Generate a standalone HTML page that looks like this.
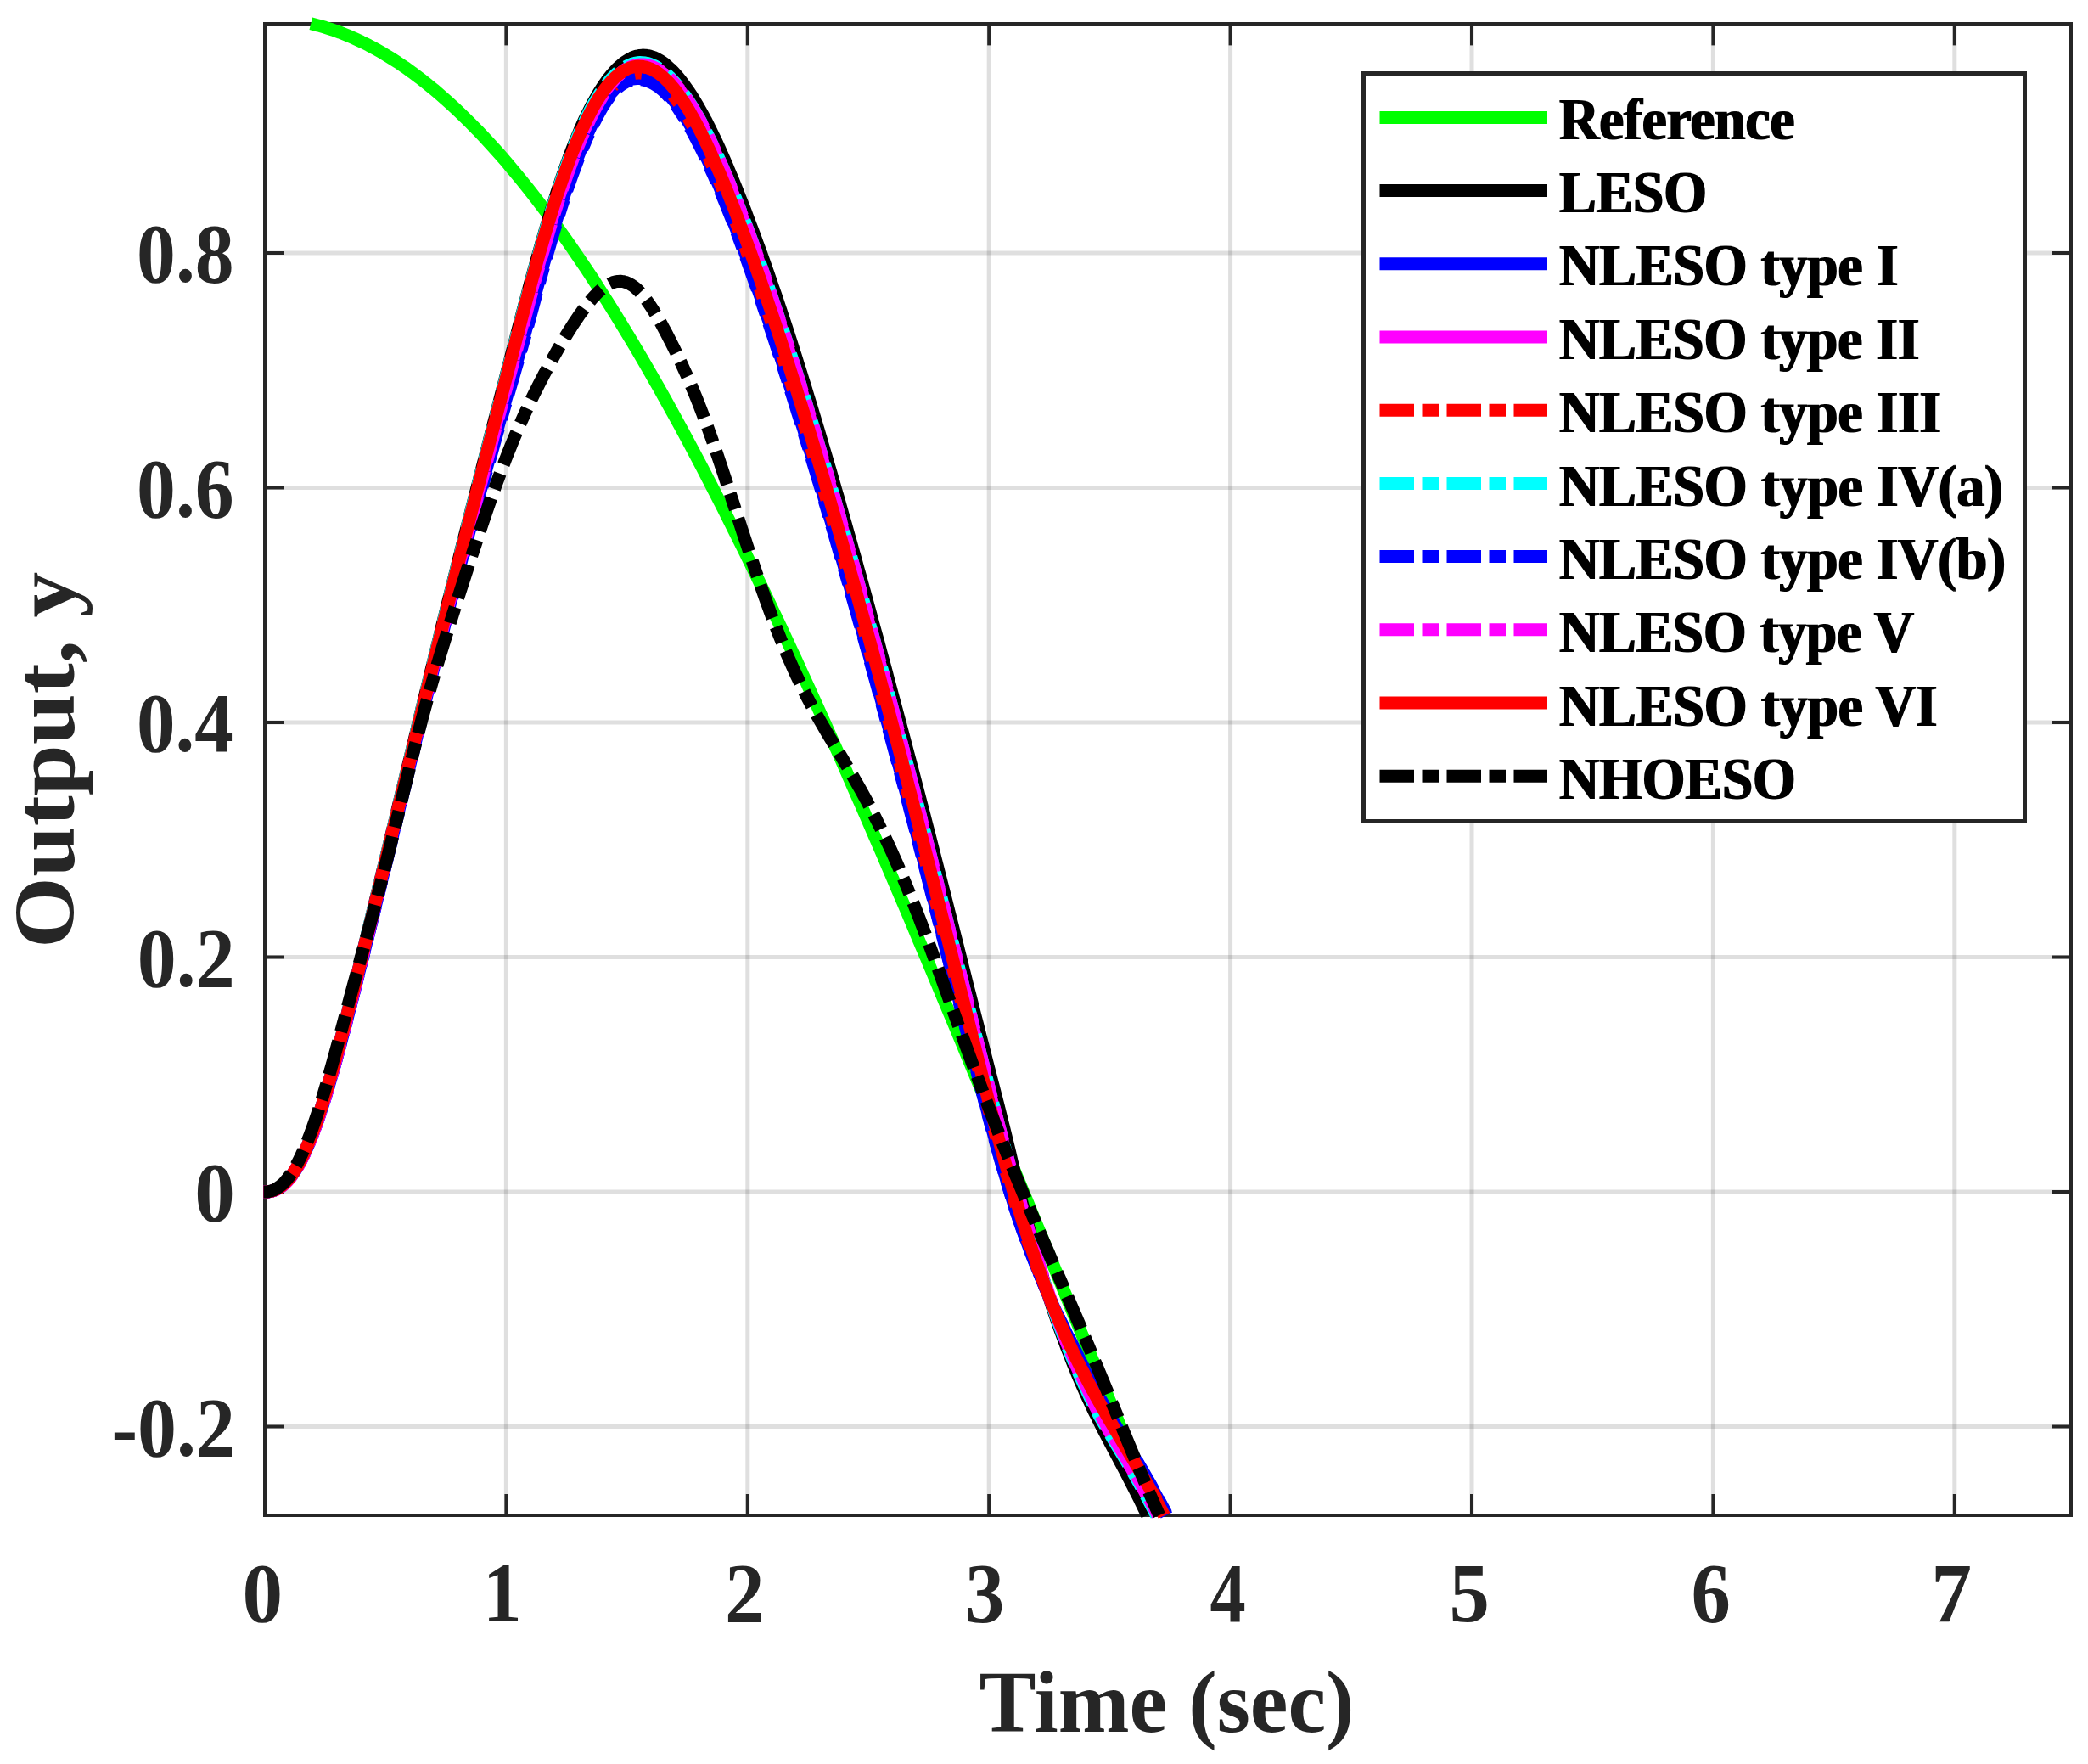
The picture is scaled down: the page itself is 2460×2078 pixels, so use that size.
<!DOCTYPE html>
<html lang="en"><head><meta charset="utf-8"><title>Output response</title>
<style>
html,body{margin:0;padding:0;background:#fff;}
body{width:2460px;height:2078px;overflow:hidden;}
svg{display:block;}
text{font-family:"Liberation Serif",serif;font-weight:bold;}
</style></head><body>
<svg width="2460" height="2078" viewBox="0 0 2460 2078">
<defs><filter id="bx" x="-2%" y="-2%" width="104%" height="104%"><feMorphology operator="dilate" radius="1 0"/></filter></defs>
<rect x="0" y="0" width="2460" height="2078" fill="#fff"/>
<g stroke="#262626" stroke-opacity="0.15" stroke-width="5" fill="none">
<line x1="596.4" y1="28.4" x2="596.4" y2="1785.0"/>
<line x1="880.8" y1="28.4" x2="880.8" y2="1785.0"/>
<line x1="1165.2" y1="28.4" x2="1165.2" y2="1785.0"/>
<line x1="1449.6" y1="28.4" x2="1449.6" y2="1785.0"/>
<line x1="1734.0" y1="28.4" x2="1734.0" y2="1785.0"/>
<line x1="2018.4" y1="28.4" x2="2018.4" y2="1785.0"/>
<line x1="2302.8" y1="28.4" x2="2302.8" y2="1785.0"/>
<line x1="312.0" y1="1680.5" x2="2440.0" y2="1680.5"/>
<line x1="312.0" y1="1404.0" x2="2440.0" y2="1404.0"/>
<line x1="312.0" y1="1127.5" x2="2440.0" y2="1127.5"/>
<line x1="312.0" y1="851.0" x2="2440.0" y2="851.0"/>
<line x1="312.0" y1="574.5" x2="2440.0" y2="574.5"/>
<line x1="312.0" y1="298.0" x2="2440.0" y2="298.0"/>
</g>
<g stroke="#262626" stroke-width="4" fill="none" stroke-linecap="butt">
<path d="M312.0 25.9 V1785.0 H2440.0 V25.9"/>
<line x1="310.0" y1="28.4" x2="2442.0" y2="28.4" stroke-width="5"/>
<line x1="596.4" y1="1785.0" x2="596.4" y2="1760.0"/>
<line x1="596.4" y1="28.4" x2="596.4" y2="53.4"/>
<line x1="880.8" y1="1785.0" x2="880.8" y2="1760.0"/>
<line x1="880.8" y1="28.4" x2="880.8" y2="53.4"/>
<line x1="1165.2" y1="1785.0" x2="1165.2" y2="1760.0"/>
<line x1="1165.2" y1="28.4" x2="1165.2" y2="53.4"/>
<line x1="1449.6" y1="1785.0" x2="1449.6" y2="1760.0"/>
<line x1="1449.6" y1="28.4" x2="1449.6" y2="53.4"/>
<line x1="1734.0" y1="1785.0" x2="1734.0" y2="1760.0"/>
<line x1="1734.0" y1="28.4" x2="1734.0" y2="53.4"/>
<line x1="2018.4" y1="1785.0" x2="2018.4" y2="1760.0"/>
<line x1="2018.4" y1="28.4" x2="2018.4" y2="53.4"/>
<line x1="2302.8" y1="1785.0" x2="2302.8" y2="1760.0"/>
<line x1="2302.8" y1="28.4" x2="2302.8" y2="53.4"/>
<line x1="312.0" y1="1680.5" x2="335.0" y2="1680.5"/>
<line x1="2440.0" y1="1680.5" x2="2417.0" y2="1680.5"/>
<line x1="312.0" y1="1404.0" x2="335.0" y2="1404.0"/>
<line x1="2440.0" y1="1404.0" x2="2417.0" y2="1404.0"/>
<line x1="312.0" y1="1127.5" x2="335.0" y2="1127.5"/>
<line x1="2440.0" y1="1127.5" x2="2417.0" y2="1127.5"/>
<line x1="312.0" y1="851.0" x2="335.0" y2="851.0"/>
<line x1="2440.0" y1="851.0" x2="2417.0" y2="851.0"/>
<line x1="312.0" y1="574.5" x2="335.0" y2="574.5"/>
<line x1="2440.0" y1="574.5" x2="2417.0" y2="574.5"/>
<line x1="312.0" y1="298.0" x2="335.0" y2="298.0"/>
<line x1="2440.0" y1="298.0" x2="2417.0" y2="298.0"/>
</g>
<g fill="none" stroke-width="15" stroke-linejoin="round" stroke-linecap="butt">
<path stroke="#00ff00" d="M366.3 27.8 L374.6 29.9 L383.1 32.3 L391.6 35.0 L400.2 38.1 L408.7 41.4 L417.2 45.1 L425.8 49.1 L434.3 53.3 L442.8 57.9 L451.4 62.8 L459.9 68.0 L468.4 73.4 L477.0 79.2 L485.5 85.3 L494.0 91.7 L502.5 98.4 L511.1 105.3 L519.6 112.6 L528.1 120.1 L536.7 128.0 L545.2 136.1 L553.7 144.5 L562.3 153.2 L570.8 162.2 L579.3 171.4 L587.9 180.9 L596.4 190.7 L604.9 200.8 L613.5 211.2 L622.0 221.8 L630.5 232.7 L639.1 243.8 L647.6 255.2 L656.1 266.9 L664.7 278.8 L673.2 291.0 L681.7 303.4 L690.3 316.1 L698.8 329.0 L707.3 342.2 L715.8 355.6 L724.4 369.2 L732.9 383.1 L741.4 397.2 L750.0 411.5 L758.5 426.0 L767.0 440.8 L775.6 455.8 L784.1 471.0 L792.6 486.4 L801.2 502.0 L809.7 517.8 L818.2 533.8 L826.8 550.0 L835.3 566.5 L843.8 583.0 L852.4 599.8 L860.9 616.8 L869.4 633.9 L878.0 651.2 L886.5 668.7 L895.0 686.3 L903.6 704.2 L912.1 722.1 L920.6 740.2 L929.1 758.5 L937.7 776.9 L946.2 795.5 L954.7 814.1 L963.3 833.0 L971.8 851.9 L980.3 871.0 L988.9 890.2 L997.4 909.5 L1005.9 928.9 L1014.5 948.4 L1023.0 968.1 L1031.5 987.8 L1040.1 1007.6 L1048.6 1027.5 L1057.1 1047.5 L1065.7 1067.6 L1074.2 1087.7 L1082.7 1108.0 L1091.3 1128.3 L1099.8 1148.6 L1108.3 1169.0 L1116.9 1189.5 L1125.4 1210.0 L1133.9 1230.5 L1142.4 1251.1 L1151.0 1271.8 L1159.5 1292.4 L1168.0 1313.1 L1176.6 1333.8 L1185.1 1354.5 L1193.6 1375.3 L1202.2 1396.0 L1210.7 1416.7 L1219.2 1437.5 L1227.8 1458.2 L1236.3 1478.9 L1244.8 1499.6 L1253.4 1520.3 L1261.9 1540.9 L1270.4 1561.5 L1279.0 1582.1 L1287.5 1602.7 L1296.0 1623.2 L1304.6 1643.6 L1313.1 1664.0 L1321.6 1684.4 L1330.2 1704.6 L1338.7 1724.8 L1347.2 1745.0 L1355.7 1765.0 L1364.3 1785.0"/>
<path stroke="#000000" d="M310.5 1404.0 L314.0 1404.0 L317.0 1403.7 L320.0 1403.1 L323.0 1402.1 L325.9 1400.8 L328.9 1399.1 L331.9 1396.9 L334.9 1394.4 L337.9 1391.3 L340.9 1387.9 L343.9 1383.9 L346.9 1379.5 L349.9 1374.6 L352.8 1369.3 L355.8 1363.4 L358.8 1357.1 L361.8 1350.3 L364.8 1343.1 L367.8 1335.4 L370.8 1327.2 L373.8 1318.7 L376.8 1309.7 L379.8 1300.4 L382.7 1290.7 L385.7 1280.7 L388.7 1270.4 L391.7 1259.8 L394.7 1248.9 L397.7 1237.9 L400.7 1226.7 L403.7 1215.3 L406.7 1203.8 L409.6 1192.2 L412.6 1180.4 L415.6 1168.6 L418.6 1156.7 L421.6 1144.7 L424.6 1132.7 L427.6 1120.6 L430.6 1108.5 L433.6 1096.4 L436.6 1084.2 L439.5 1072.0 L442.5 1059.7 L445.5 1047.5 L448.5 1035.2 L451.5 1022.9 L454.5 1010.6 L457.5 998.2 L460.5 985.9 L463.5 973.5 L466.5 961.1 L469.4 948.7 L472.4 936.3 L475.4 924.0 L478.4 911.6 L481.4 899.2 L484.4 886.8 L487.4 874.4 L490.4 862.1 L493.3 849.7 L496.3 837.4 L499.3 825.1 L502.3 812.8 L505.3 800.6 L508.3 788.3 L511.3 776.1 L514.3 763.9 L517.3 751.8 L520.2 739.6 L523.2 727.6 L526.2 715.5 L529.2 703.5 L532.2 691.5 L535.2 679.6 L538.2 667.7 L541.2 655.9 L544.1 644.0 L547.1 632.3 L550.1 620.5 L553.1 608.8 L556.1 597.2 L559.1 585.5 L562.1 573.9 L565.1 562.3 L568.1 550.7 L571.1 539.2 L574.1 527.6 L577.0 516.1 L580.0 504.5 L583.0 492.9 L586.0 481.4 L589.0 469.8 L592.0 458.2 L595.0 446.6 L598.0 435.0 L601.0 423.5 L604.0 411.9 L607.0 400.4 L610.0 388.9 L613.0 377.4 L616.0 366.0 L619.0 354.7 L622.0 343.4 L625.0 332.3 L628.0 321.2 L631.1 310.2 L634.1 299.4 L637.1 288.7 L640.2 278.2 L643.2 267.8 L646.3 257.7 L649.3 247.7 L652.4 237.9 L655.4 228.4 L658.5 219.1 L661.5 210.0 L664.6 201.1 L667.7 192.5 L670.7 184.2 L673.8 176.1 L676.9 168.3 L680.0 160.8 L683.0 153.5 L686.1 146.5 L689.2 139.7 L692.4 133.2 L695.5 127.0 L698.7 121.0 L701.9 115.3 L705.1 109.8 L708.3 104.7 L711.5 99.8 L714.7 95.2 L718.0 91.0 L721.2 87.0 L724.5 83.4 L727.7 80.0 L731.0 77.0 L734.2 74.4 L737.5 72.0 L740.7 70.0 L744.0 68.3 L747.2 67.0 L750.5 66.0 L753.7 65.4 L756.9 65.1 L760.2 65.2 L763.4 65.6 L766.6 66.4 L769.9 67.4 L773.2 68.9 L776.4 70.6 L779.7 72.7 L783.0 75.0 L786.2 77.7 L789.5 80.7 L792.8 83.9 L796.0 87.4 L799.3 91.2 L802.5 95.2 L805.8 99.5 L809.0 104.0 L812.3 108.8 L815.5 113.7 L818.7 118.9 L821.9 124.3 L825.1 129.9 L828.2 135.6 L831.4 141.5 L834.5 147.6 L837.6 153.8 L840.7 160.2 L843.9 166.8 L847.0 173.6 L850.1 180.5 L853.2 187.5 L856.3 194.7 L859.4 202.1 L862.5 209.5 L865.6 217.0 L868.7 224.7 L871.7 232.4 L874.8 240.2 L877.9 248.1 L880.9 256.1 L883.9 264.1 L887.0 272.2 L890.0 280.3 L893.0 288.5 L896.0 296.7 L899.0 305.0 L902.0 313.4 L905.0 321.9 L907.9 330.4 L910.9 339.1 L913.9 347.8 L916.9 356.6 L919.8 365.4 L922.8 374.4 L925.8 383.4 L928.7 392.4 L931.7 401.6 L934.6 410.8 L937.6 420.1 L940.5 429.4 L943.5 438.8 L946.4 448.3 L949.4 457.8 L952.3 467.4 L955.3 477.0 L958.2 486.7 L961.1 496.5 L964.1 506.3 L967.0 516.2 L969.9 526.1 L972.9 536.1 L975.8 546.1 L978.8 556.2 L981.7 566.3 L984.6 576.5 L987.6 586.7 L990.5 597.0 L993.4 607.3 L996.4 617.7 L999.3 628.1 L1002.3 638.6 L1005.2 649.1 L1008.2 659.6 L1011.1 670.2 L1014.1 680.8 L1017.0 691.5 L1020.0 702.2 L1022.9 712.9 L1025.9 723.7 L1028.8 734.6 L1031.8 745.4 L1034.8 756.3 L1037.7 767.3 L1040.7 778.3 L1043.7 789.3 L1046.6 800.3 L1049.6 811.4 L1052.6 822.6 L1055.6 833.7 L1058.6 844.9 L1061.6 856.2 L1064.6 867.5 L1067.6 878.8 L1070.6 890.1 L1073.6 901.5 L1076.6 913.0 L1079.6 924.4 L1082.6 935.9 L1085.6 947.4 L1088.6 959.0 L1091.6 970.6 L1094.6 982.2 L1097.6 993.9 L1100.6 1005.6 L1103.6 1017.3 L1106.6 1029.0 L1109.6 1040.8 L1112.6 1052.6 L1115.6 1064.4 L1118.6 1076.3 L1121.6 1088.1 L1124.6 1100.0 L1127.6 1111.9 L1130.6 1123.8 L1133.6 1135.8 L1136.6 1147.7 L1139.6 1159.7 L1142.7 1171.6 L1145.7 1183.6 L1148.7 1195.6 L1151.8 1207.5 L1154.8 1219.5 L1157.9 1231.4 L1160.9 1243.3 L1163.9 1255.2 L1167.0 1267.0 L1170.0 1278.7 L1173.0 1290.4 L1176.0 1302.0 L1178.9 1313.5 L1181.7 1324.8 L1184.5 1336.1 L1187.2 1347.2 L1189.8 1358.1 L1192.3 1368.9 L1194.9 1379.5 L1197.4 1390.0 L1199.9 1400.3 L1202.5 1410.4 L1205.0 1420.3 L1207.6 1430.0 L1210.2 1439.5 L1212.7 1448.8 L1215.2 1458.0 L1217.7 1466.9 L1220.2 1475.7 L1222.6 1484.3 L1225.1 1492.8 L1227.5 1501.0 L1230.0 1509.1 L1232.4 1517.0 L1234.8 1524.8 L1237.3 1532.4 L1239.7 1539.8 L1242.2 1547.1 L1244.6 1554.2 L1247.1 1561.2 L1249.6 1568.1 L1252.0 1574.8 L1254.5 1581.4 L1256.9 1587.8 L1259.4 1594.1 L1261.8 1600.4 L1264.2 1606.4 L1266.7 1612.4 L1269.1 1618.3 L1271.5 1624.1 L1274.0 1629.8 L1276.5 1635.4 L1278.9 1640.9 L1281.4 1646.3 L1283.9 1651.7 L1286.4 1657.0 L1288.9 1662.3 L1291.5 1667.5 L1294.1 1672.6 L1296.6 1677.7 L1299.2 1682.8 L1301.8 1687.8 L1304.4 1692.8 L1307.1 1697.8 L1309.7 1702.9 L1312.3 1707.9 L1315.0 1712.9 L1317.6 1717.9 L1320.3 1722.9 L1323.0 1728.0 L1325.7 1733.1 L1328.4 1738.3 L1331.1 1743.5 L1333.8 1748.8 L1336.6 1754.2 L1339.3 1759.6 L1342.1 1765.1 L1344.8 1770.7 L1347.6 1776.5 L1350.4 1782.3 L1351.6 1785.0"/>
<path stroke="#0000ff" d="M310.5 1404.0 L314.0 1404.0 L317.1 1403.7 L320.1 1403.1 L323.2 1402.1 L326.2 1400.8 L329.2 1399.1 L332.3 1396.9 L335.3 1394.4 L338.4 1391.3 L341.4 1387.9 L344.4 1383.9 L347.5 1379.5 L350.5 1374.6 L353.6 1369.3 L356.6 1363.4 L359.6 1357.1 L362.7 1350.3 L365.7 1343.1 L368.7 1335.4 L371.8 1327.2 L374.8 1318.7 L377.8 1309.7 L380.9 1300.4 L383.9 1290.7 L386.9 1280.7 L389.9 1270.4 L393.0 1259.8 L396.0 1248.9 L399.0 1237.9 L402.0 1226.7 L405.0 1215.3 L408.1 1203.8 L411.1 1192.2 L414.1 1180.4 L417.1 1168.6 L420.1 1156.7 L423.1 1144.7 L426.1 1132.7 L429.2 1120.6 L432.2 1108.5 L435.2 1096.4 L438.2 1084.2 L441.2 1072.0 L444.2 1059.7 L447.2 1047.5 L450.2 1035.2 L453.2 1022.9 L456.2 1010.6 L459.3 998.2 L462.3 985.9 L465.3 973.5 L468.3 961.1 L471.3 948.7 L474.3 936.3 L477.3 924.0 L480.3 911.6 L483.4 899.2 L486.4 886.8 L489.4 874.4 L492.4 862.1 L495.5 849.7 L498.5 837.4 L501.5 825.1 L504.5 812.8 L507.6 800.6 L510.6 788.3 L513.7 776.1 L516.8 763.9 L519.9 751.8 L523.0 739.6 L526.1 727.6 L529.2 715.5 L532.4 703.5 L535.5 691.5 L538.6 679.6 L541.8 667.7 L544.9 655.9 L548.1 644.0 L551.3 632.3 L554.4 620.5 L557.6 608.8 L560.8 597.2 L564.0 585.5 L567.2 573.9 L570.3 562.3 L573.5 550.7 L576.7 539.2 L579.9 527.6 L583.1 516.1 L586.4 504.5 L589.6 492.9 L593.0 481.4 L596.3 469.8 L599.7 458.2 L603.1 446.6 L606.4 435.0 L609.7 423.5 L613.0 411.9 L616.3 400.4 L619.5 388.9 L622.6 377.4 L625.6 366.0 L628.6 354.7 L631.6 343.6 L634.6 332.6 L637.5 321.7 L640.5 311.0 L643.4 300.5 L646.4 290.2 L649.3 280.0 L652.3 270.1 L655.2 260.4 L658.1 250.9 L661.0 241.7 L663.9 232.6 L666.8 223.9 L669.7 215.3 L672.6 207.0 L675.5 199.0 L678.4 191.2 L681.3 183.7 L684.2 176.5 L687.1 169.5 L689.9 162.8 L692.8 156.4 L695.6 150.3 L698.3 144.6 L701.0 139.2 L703.7 134.1 L706.4 129.4 L709.0 125.0 L711.6 120.8 L714.2 117.0 L716.8 113.5 L719.3 110.3 L721.9 107.4 L724.4 104.7 L727.0 102.4 L729.5 100.3 L732.1 98.4 L734.7 96.9 L737.3 95.6 L739.9 94.5 L742.5 93.7 L745.2 93.0 L747.8 92.7 L750.6 92.5 L753.3 92.5 L756.1 92.8 L758.8 93.2 L761.6 93.9 L764.3 94.8 L767.1 95.9 L769.8 97.3 L772.6 98.8 L775.4 100.6 L778.2 102.7 L780.9 104.9 L783.7 107.4 L786.5 110.2 L789.3 113.2 L792.1 116.4 L795.0 119.9 L797.8 123.6 L800.6 127.6 L803.5 131.8 L806.4 136.3 L809.3 141.0 L812.2 145.9 L815.1 151.1 L818.0 156.5 L820.9 162.2 L823.9 168.0 L826.8 173.9 L829.8 180.1 L832.7 186.3 L835.7 192.8 L838.6 199.3 L841.6 206.0 L844.5 212.9 L847.5 219.9 L850.4 227.0 L853.4 234.2 L856.4 241.6 L859.4 249.1 L862.3 256.7 L865.3 264.5 L868.3 272.4 L871.3 280.4 L874.3 288.5 L877.3 296.7 L880.3 305.0 L883.3 313.4 L886.3 321.9 L889.3 330.4 L892.3 339.1 L895.3 347.8 L898.4 356.6 L901.4 365.4 L904.4 374.4 L907.4 383.4 L910.4 392.4 L913.5 401.6 L916.5 410.8 L919.5 420.1 L922.5 429.4 L925.6 438.8 L928.6 448.3 L931.6 457.8 L934.6 467.4 L937.7 477.0 L940.7 486.7 L943.7 496.5 L946.8 506.3 L949.8 516.2 L952.8 526.1 L955.9 536.1 L958.9 546.1 L961.9 556.2 L965.0 566.3 L968.0 576.5 L971.0 586.7 L974.1 597.0 L977.1 607.3 L980.1 617.7 L983.2 628.1 L986.2 638.6 L989.2 649.1 L992.3 659.6 L995.3 670.2 L998.4 680.8 L1001.4 691.5 L1004.4 702.2 L1007.5 712.9 L1010.5 723.7 L1013.5 734.6 L1016.5 745.4 L1019.6 756.3 L1022.6 767.3 L1025.6 778.3 L1028.7 789.3 L1031.7 800.3 L1034.7 811.4 L1037.7 822.6 L1040.8 833.7 L1043.8 844.9 L1046.8 856.2 L1049.8 867.5 L1052.8 878.8 L1055.9 890.1 L1058.9 901.5 L1061.9 913.0 L1064.9 924.4 L1067.9 935.9 L1070.9 947.4 L1074.0 959.0 L1077.0 970.6 L1080.0 982.2 L1083.0 993.9 L1086.0 1005.6 L1089.0 1017.3 L1092.1 1029.0 L1095.1 1040.8 L1098.1 1052.6 L1101.1 1064.4 L1104.1 1076.3 L1107.1 1088.1 L1110.2 1100.0 L1113.2 1111.9 L1116.2 1123.8 L1119.2 1135.8 L1122.2 1147.7 L1125.2 1159.7 L1128.3 1171.6 L1131.3 1183.6 L1134.3 1195.6 L1137.3 1207.5 L1140.3 1219.5 L1143.3 1231.4 L1146.4 1243.3 L1149.4 1255.2 L1152.4 1267.0 L1155.4 1278.7 L1158.4 1290.4 L1161.5 1302.0 L1164.5 1313.5 L1167.5 1324.8 L1170.6 1336.1 L1173.6 1347.2 L1176.6 1358.1 L1179.7 1368.9 L1182.7 1379.5 L1185.7 1390.0 L1188.8 1400.3 L1191.9 1410.4 L1195.0 1420.3 L1198.2 1430.0 L1201.4 1439.5 L1204.7 1448.8 L1208.0 1458.0 L1211.3 1466.9 L1214.7 1475.7 L1218.1 1484.3 L1221.4 1492.8 L1224.8 1501.0 L1228.2 1509.1 L1231.5 1517.0 L1234.9 1524.8 L1238.2 1532.4 L1241.6 1539.8 L1245.0 1547.1 L1248.4 1554.2 L1251.8 1561.2 L1255.2 1568.1 L1258.5 1574.8 L1261.8 1581.4 L1264.9 1587.8 L1268.0 1594.1 L1271.0 1600.4 L1274.0 1606.4 L1277.0 1612.4 L1280.0 1618.3 L1283.0 1624.1 L1286.0 1629.8 L1289.0 1635.4 L1292.0 1640.9 L1295.0 1646.3 L1298.0 1651.7 L1301.0 1657.0 L1304.0 1662.3 L1307.0 1667.5 L1310.0 1672.6 L1313.0 1677.7 L1316.0 1682.8 L1319.0 1687.8 L1322.0 1692.8 L1325.0 1697.8 L1328.0 1702.9 L1331.0 1707.9 L1334.0 1712.9 L1337.0 1717.9 L1340.0 1722.9 L1343.0 1728.0 L1346.0 1733.1 L1349.0 1738.3 L1352.0 1743.5 L1355.0 1748.8 L1358.0 1754.2 L1361.0 1759.6 L1364.0 1765.1 L1367.0 1770.7 L1370.0 1776.5 L1373.0 1782.3 L1374.4 1785.0"/>
<path stroke="#ff00ff" d="M310.5 1404.0 L314.0 1404.0 L317.0 1403.7 L320.0 1403.1 L323.0 1402.1 L326.0 1400.8 L329.0 1399.1 L332.0 1396.9 L335.0 1394.4 L338.0 1391.3 L341.0 1387.9 L344.0 1383.9 L347.0 1379.5 L350.0 1374.6 L353.0 1369.3 L356.0 1363.4 L359.0 1357.1 L362.0 1350.3 L365.0 1343.1 L368.0 1335.4 L371.0 1327.2 L374.0 1318.7 L377.0 1309.7 L380.0 1300.4 L383.0 1290.7 L386.0 1280.7 L389.0 1270.4 L392.0 1259.8 L395.0 1248.9 L398.0 1237.9 L401.0 1226.7 L404.0 1215.3 L407.0 1203.8 L410.0 1192.2 L413.0 1180.4 L416.0 1168.6 L419.0 1156.7 L422.0 1144.7 L425.0 1132.7 L428.0 1120.6 L431.0 1108.5 L434.0 1096.4 L437.0 1084.2 L440.0 1072.0 L443.0 1059.7 L446.0 1047.5 L449.0 1035.2 L452.0 1022.9 L455.0 1010.6 L458.0 998.2 L461.0 985.9 L464.0 973.5 L467.0 961.1 L470.1 948.7 L473.1 936.3 L476.1 924.0 L479.1 911.6 L482.2 899.2 L485.2 886.8 L488.2 874.4 L491.3 862.1 L494.3 849.7 L497.4 837.4 L500.4 825.1 L503.5 812.8 L506.5 800.6 L509.6 788.3 L512.6 776.1 L515.7 763.9 L518.7 751.8 L521.8 739.6 L524.9 727.6 L527.9 715.5 L531.0 703.5 L534.1 691.5 L537.1 679.6 L540.2 667.7 L543.2 655.9 L546.3 644.0 L549.4 632.3 L552.4 620.5 L555.5 608.8 L558.6 597.2 L561.6 585.5 L564.7 573.9 L567.8 562.3 L570.8 550.7 L573.9 539.2 L577.0 527.6 L580.0 516.1 L583.1 504.5 L586.2 492.9 L589.3 481.4 L592.4 469.8 L595.5 458.2 L598.6 446.6 L601.7 435.0 L604.8 423.5 L607.9 411.9 L610.9 400.4 L614.0 388.9 L617.0 377.4 L620.0 366.0 L623.0 354.7 L626.0 343.5 L629.0 332.4 L632.0 321.5 L635.0 310.7 L638.0 300.0 L641.0 289.6 L644.0 279.3 L647.0 269.1 L650.0 259.2 L653.0 249.5 L656.0 240.1 L659.0 230.8 L662.0 221.8 L665.0 213.0 L668.0 204.5 L671.0 196.2 L674.0 188.2 L677.0 180.4 L680.0 172.9 L683.0 165.6 L686.0 158.6 L689.0 151.9 L692.0 145.5 L694.9 139.2 L697.9 133.3 L700.9 127.6 L703.8 122.2 L706.8 117.1 L709.7 112.3 L712.7 107.7 L715.6 103.5 L718.5 99.5 L721.5 95.9 L724.4 92.5 L727.3 89.5 L730.3 86.7 L733.2 84.3 L736.2 82.1 L739.1 80.3 L742.1 78.8 L745.1 77.6 L748.0 76.7 L751.0 76.2 L754.0 75.9 L757.0 76.0 L760.0 76.3 L763.1 77.0 L766.2 77.9 L769.3 79.1 L772.4 80.7 L775.5 82.5 L778.7 84.6 L781.8 86.9 L785.0 89.5 L788.1 92.4 L791.3 95.6 L794.5 99.0 L797.7 102.6 L800.8 106.5 L804.0 110.7 L807.2 115.0 L810.3 119.6 L813.5 124.4 L816.6 129.5 L819.7 134.7 L822.8 140.1 L825.9 145.7 L829.0 151.5 L832.1 157.5 L835.1 163.7 L838.2 170.0 L841.2 176.5 L844.3 183.1 L847.3 189.9 L850.4 196.8 L853.4 203.9 L856.5 211.0 L859.5 218.3 L862.5 225.7 L865.6 233.2 L868.6 240.9 L871.6 248.6 L874.7 256.4 L877.7 264.3 L880.7 272.3 L883.7 280.3 L886.7 288.5 L889.7 296.7 L892.7 305.0 L895.7 313.4 L898.7 321.9 L901.7 330.4 L904.7 339.1 L907.7 347.8 L910.7 356.6 L913.6 365.4 L916.6 374.4 L919.6 383.4 L922.6 392.4 L925.6 401.6 L928.6 410.8 L931.5 420.1 L934.5 429.4 L937.5 438.8 L940.5 448.3 L943.5 457.8 L946.4 467.4 L949.4 477.0 L952.4 486.7 L955.4 496.5 L958.3 506.3 L961.3 516.2 L964.3 526.1 L967.3 536.1 L970.2 546.1 L973.2 556.2 L976.2 566.3 L979.1 576.5 L982.1 586.7 L985.1 597.0 L988.1 607.3 L991.0 617.7 L994.0 628.1 L997.0 638.6 L999.9 649.1 L1002.9 659.6 L1005.9 670.2 L1008.8 680.8 L1011.8 691.5 L1014.8 702.2 L1017.8 712.9 L1020.7 723.7 L1023.7 734.6 L1026.7 745.4 L1029.6 756.3 L1032.6 767.3 L1035.6 778.3 L1038.6 789.3 L1041.5 800.3 L1044.5 811.4 L1047.5 822.6 L1050.4 833.7 L1053.4 844.9 L1056.4 856.2 L1059.4 867.5 L1062.3 878.8 L1065.3 890.1 L1068.3 901.5 L1071.2 913.0 L1074.2 924.4 L1077.2 935.9 L1080.1 947.4 L1083.1 959.0 L1086.1 970.6 L1089.0 982.2 L1092.0 993.9 L1095.0 1005.6 L1098.0 1017.3 L1100.9 1029.0 L1103.9 1040.8 L1106.9 1052.6 L1109.9 1064.4 L1112.8 1076.3 L1115.8 1088.1 L1118.8 1100.0 L1121.8 1111.9 L1124.8 1123.8 L1127.8 1135.8 L1130.8 1147.7 L1133.8 1159.7 L1136.8 1171.6 L1139.8 1183.6 L1142.8 1195.6 L1145.8 1207.5 L1148.8 1219.5 L1151.8 1231.4 L1154.8 1243.3 L1157.8 1255.2 L1160.8 1267.0 L1163.8 1278.7 L1166.8 1290.4 L1169.8 1302.0 L1172.8 1313.5 L1175.8 1324.8 L1178.8 1336.1 L1181.8 1347.2 L1184.8 1358.1 L1187.8 1368.9 L1190.8 1379.5 L1193.8 1390.0 L1196.8 1400.3 L1199.8 1410.4 L1202.7 1420.3 L1205.6 1430.0 L1208.4 1439.5 L1211.1 1448.8 L1213.8 1458.0 L1216.5 1466.9 L1219.2 1475.7 L1221.9 1484.3 L1224.5 1492.8 L1227.2 1501.0 L1229.8 1509.1 L1232.5 1517.0 L1235.1 1524.8 L1237.8 1532.4 L1240.5 1539.8 L1243.2 1547.1 L1245.8 1554.2 L1248.5 1561.2 L1251.1 1568.1 L1253.8 1574.8 L1256.4 1581.4 L1259.0 1587.8 L1261.6 1594.1 L1264.3 1600.4 L1266.9 1606.4 L1269.6 1612.4 L1272.2 1618.3 L1274.9 1624.1 L1277.5 1629.8 L1280.1 1635.4 L1282.7 1640.9 L1285.3 1646.3 L1287.9 1651.7 L1290.5 1657.0 L1293.3 1662.3 L1296.1 1667.5 L1299.0 1672.6 L1302.0 1677.7 L1305.0 1682.8 L1308.0 1687.8 L1311.0 1692.8 L1314.0 1697.8 L1317.0 1702.9 L1320.0 1707.9 L1323.0 1712.9 L1326.0 1717.9 L1329.0 1722.9 L1332.0 1728.0 L1335.0 1733.1 L1338.0 1738.3 L1341.0 1743.5 L1344.0 1748.8 L1347.0 1754.2 L1350.0 1759.6 L1353.0 1765.1 L1356.0 1770.7 L1359.0 1776.5 L1362.0 1782.3 L1363.4 1785.0"/>
<path stroke="#ff0000" stroke-dasharray="41 11.3 19.5 11.3" d="M310.5 1404.0 L314.0 1404.0 L317.0 1403.7 L320.0 1403.1 L323.0 1402.1 L326.0 1400.8 L329.0 1399.1 L332.0 1396.9 L335.0 1394.4 L338.0 1391.3 L341.0 1387.9 L344.0 1383.9 L347.0 1379.5 L350.0 1374.6 L353.1 1369.3 L356.1 1363.4 L359.1 1357.1 L362.1 1350.3 L365.1 1343.1 L368.1 1335.4 L371.1 1327.2 L374.1 1318.7 L377.1 1309.7 L380.1 1300.4 L383.1 1290.7 L386.2 1280.7 L389.2 1270.4 L392.2 1259.8 L395.2 1248.9 L398.2 1237.9 L401.2 1226.7 L404.2 1215.3 L407.3 1203.8 L410.3 1192.2 L413.3 1180.4 L416.3 1168.6 L419.3 1156.7 L422.3 1144.7 L425.3 1132.7 L428.4 1120.6 L431.4 1108.5 L434.4 1096.4 L437.4 1084.2 L440.4 1072.0 L443.4 1059.7 L446.5 1047.5 L449.5 1035.2 L452.5 1022.9 L455.5 1010.6 L458.5 998.2 L461.5 985.9 L464.6 973.5 L467.6 961.1 L470.6 948.7 L473.7 936.3 L476.7 924.0 L479.8 911.6 L482.8 899.2 L485.9 886.8 L488.9 874.4 L492.0 862.1 L495.0 849.7 L498.1 837.4 L501.1 825.1 L504.2 812.8 L507.2 800.6 L510.3 788.3 L513.4 776.1 L516.4 763.9 L519.5 751.8 L522.6 739.6 L525.6 727.6 L528.7 715.5 L531.8 703.5 L534.8 691.5 L537.9 679.6 L540.9 667.7 L544.0 655.9 L547.1 644.0 L550.1 632.3 L553.2 620.5 L556.3 608.8 L559.3 597.2 L562.4 585.5 L565.4 573.9 L568.5 562.3 L571.5 550.7 L574.6 539.2 L577.6 527.6 L580.7 516.1 L583.7 504.5 L586.8 492.9 L589.8 481.4 L592.8 469.8 L595.9 458.2 L598.9 446.6 L601.9 435.0 L605.0 423.5 L608.0 411.9 L611.0 400.4 L614.0 388.9 L617.0 377.4 L620.0 366.0 L623.0 354.7 L626.0 343.6 L629.0 332.6 L632.0 321.7 L635.0 311.0 L638.0 300.4 L641.0 290.1 L644.0 279.9 L647.0 269.9 L650.0 260.2 L653.0 250.6 L656.0 241.3 L659.0 232.3 L662.0 223.4 L665.0 214.8 L668.0 206.5 L671.0 198.4 L674.0 190.5 L677.0 182.9 L680.0 175.6 L683.0 168.5 L686.0 161.7 L689.0 155.2 L691.9 149.0 L694.8 143.1 L697.7 137.4 L700.6 132.1 L703.5 127.1 L706.3 122.4 L709.1 118.0 L711.9 113.8 L714.7 110.0 L717.5 106.5 L720.3 103.2 L723.1 100.3 L725.9 97.6 L728.6 95.2 L731.4 93.1 L734.2 91.3 L737.0 89.8 L739.8 88.5 L742.6 87.5 L745.4 86.8 L748.2 86.3 L751.0 86.1 L753.9 86.1 L756.7 86.4 L759.6 87.0 L762.4 87.8 L765.3 88.9 L768.1 90.2 L770.9 91.8 L773.7 93.6 L776.6 95.7 L779.4 98.0 L782.2 100.6 L785.1 103.4 L787.9 106.5 L790.8 109.8 L793.7 113.3 L796.5 117.1 L799.4 121.1 L802.3 125.4 L805.2 129.9 L808.1 134.6 L811.1 139.5 L814.0 144.6 L817.0 150.0 L820.0 155.5 L823.0 161.3 L826.0 167.2 L829.0 173.2 L832.0 179.4 L835.0 185.8 L838.0 192.3 L841.0 198.9 L844.0 205.7 L847.0 212.6 L850.0 219.6 L853.0 226.8 L856.0 234.1 L859.0 241.5 L862.0 249.0 L865.0 256.7 L868.0 264.5 L871.0 272.3 L874.0 280.3 L877.0 288.5 L880.0 296.7 L883.0 305.0 L886.0 313.4 L889.0 321.9 L892.0 330.4 L895.0 339.1 L898.0 347.8 L901.0 356.6 L904.0 365.4 L907.1 374.4 L910.1 383.4 L913.1 392.4 L916.1 401.6 L919.1 410.8 L922.1 420.1 L925.1 429.4 L928.1 438.8 L931.2 448.3 L934.2 457.8 L937.2 467.4 L940.2 477.0 L943.2 486.7 L946.3 496.5 L949.3 506.3 L952.3 516.2 L955.3 526.1 L958.3 536.1 L961.4 546.1 L964.4 556.2 L967.4 566.3 L970.4 576.5 L973.4 586.7 L976.5 597.0 L979.5 607.3 L982.5 617.7 L985.5 628.1 L988.6 638.6 L991.6 649.1 L994.6 659.6 L997.6 670.2 L1000.7 680.8 L1003.7 691.5 L1006.7 702.2 L1009.7 712.9 L1012.7 723.7 L1015.8 734.6 L1018.8 745.4 L1021.8 756.3 L1024.8 767.3 L1027.9 778.3 L1030.9 789.3 L1033.9 800.3 L1036.9 811.4 L1039.9 822.6 L1043.0 833.7 L1046.0 844.9 L1049.0 856.2 L1052.0 867.5 L1055.0 878.8 L1058.1 890.1 L1061.1 901.5 L1064.1 913.0 L1067.1 924.4 L1070.1 935.9 L1073.1 947.4 L1076.2 959.0 L1079.2 970.6 L1082.2 982.2 L1085.2 993.9 L1088.2 1005.6 L1091.2 1017.3 L1094.2 1029.0 L1097.3 1040.8 L1100.3 1052.6 L1103.3 1064.4 L1106.3 1076.3 L1109.3 1088.1 L1112.3 1100.0 L1115.4 1111.9 L1118.4 1123.8 L1121.4 1135.8 L1124.4 1147.7 L1127.4 1159.7 L1130.4 1171.6 L1133.5 1183.6 L1136.5 1195.6 L1139.5 1207.5 L1142.5 1219.5 L1145.5 1231.4 L1148.6 1243.3 L1151.6 1255.2 L1154.6 1267.0 L1157.6 1278.7 L1160.7 1290.4 L1163.7 1302.0 L1166.7 1313.5 L1169.8 1324.8 L1172.8 1336.1 L1175.8 1347.2 L1178.8 1358.1 L1181.9 1368.9 L1184.9 1379.5 L1188.0 1390.0 L1191.0 1400.3 L1194.0 1410.4 L1197.1 1420.3 L1200.2 1430.0 L1203.3 1439.5 L1206.4 1448.8 L1209.5 1458.0 L1212.6 1466.9 L1215.8 1475.7 L1218.9 1484.3 L1222.0 1492.8 L1225.2 1501.0 L1228.3 1509.1 L1231.4 1517.0 L1234.6 1524.8 L1237.7 1532.4 L1240.8 1539.8 L1243.9 1547.1 L1246.9 1554.2 L1250.0 1561.2 L1253.0 1568.1 L1256.1 1574.8 L1259.1 1581.4 L1262.1 1587.8 L1265.2 1594.1 L1268.2 1600.4 L1271.3 1606.4 L1274.3 1612.4 L1277.3 1618.3 L1280.4 1624.1 L1283.4 1629.8 L1286.4 1635.4 L1289.4 1640.9 L1292.5 1646.3 L1295.5 1651.7 L1298.5 1657.0 L1301.6 1662.3 L1304.6 1667.5 L1307.6 1672.6 L1310.6 1677.7 L1313.7 1682.8 L1316.7 1687.8 L1319.7 1692.8 L1322.7 1697.8 L1325.8 1702.9 L1328.8 1707.9 L1331.8 1712.9 L1334.8 1717.9 L1337.8 1722.9 L1340.8 1728.0 L1343.9 1733.1 L1346.9 1738.3 L1349.9 1743.5 L1352.9 1748.8 L1355.9 1754.2 L1358.9 1759.6 L1361.9 1765.1 L1365.0 1770.7 L1368.0 1776.5 L1371.0 1782.3 L1372.3 1785.0"/>
<path stroke="#00ffff" stroke-dasharray="41 11.3 19.5 11.3" d="M310.5 1404.0 L314.0 1404.0 L317.0 1403.7 L320.0 1403.1 L323.0 1402.1 L326.0 1400.8 L328.9 1399.1 L331.9 1396.9 L334.9 1394.4 L337.9 1391.3 L340.9 1387.9 L343.9 1383.9 L346.9 1379.5 L349.9 1374.6 L352.9 1369.3 L355.9 1363.4 L358.8 1357.1 L361.8 1350.3 L364.8 1343.1 L367.8 1335.4 L370.8 1327.2 L373.8 1318.7 L376.8 1309.7 L379.8 1300.4 L382.8 1290.7 L385.8 1280.7 L388.8 1270.4 L391.7 1259.8 L394.7 1248.9 L397.7 1237.9 L400.7 1226.7 L403.7 1215.3 L406.7 1203.8 L409.7 1192.2 L412.7 1180.4 L415.7 1168.6 L418.7 1156.7 L421.7 1144.7 L424.7 1132.7 L427.7 1120.6 L430.6 1108.5 L433.6 1096.4 L436.6 1084.2 L439.6 1072.0 L442.6 1059.7 L445.6 1047.5 L448.6 1035.2 L451.6 1022.9 L454.6 1010.6 L457.6 998.2 L460.6 985.9 L463.6 973.5 L466.6 961.1 L469.6 948.7 L472.6 936.3 L475.6 924.0 L478.6 911.6 L481.6 899.2 L484.5 886.8 L487.5 874.4 L490.5 862.1 L493.5 849.7 L496.5 837.4 L499.5 825.1 L502.5 812.8 L505.5 800.6 L508.5 788.3 L511.5 776.1 L514.5 763.9 L517.5 751.8 L520.5 739.6 L523.5 727.6 L526.5 715.5 L529.5 703.5 L532.5 691.5 L535.5 679.6 L538.5 667.7 L541.5 655.9 L544.5 644.0 L547.4 632.3 L550.4 620.5 L553.4 608.8 L556.4 597.2 L559.4 585.5 L562.4 573.9 L565.4 562.3 L568.4 550.7 L571.4 539.2 L574.4 527.6 L577.4 516.1 L580.4 504.5 L583.4 492.9 L586.4 481.4 L589.4 469.8 L592.4 458.2 L595.4 446.6 L598.4 435.0 L601.4 423.5 L604.4 411.9 L607.4 400.4 L610.4 388.9 L613.4 377.4 L616.4 366.0 L619.4 354.7 L622.4 343.5 L625.4 332.4 L628.4 321.4 L631.4 310.5 L634.4 299.8 L637.4 289.2 L640.4 278.8 L643.4 268.6 L646.4 258.6 L649.4 248.8 L652.4 239.2 L655.4 229.8 L658.4 220.7 L661.5 211.8 L664.5 203.1 L667.5 194.7 L670.5 186.6 L673.5 178.7 L676.5 171.0 L679.5 163.7 L682.5 156.6 L685.5 149.8 L688.6 143.2 L691.6 137.0 L694.7 131.0 L697.7 125.3 L700.8 119.8 L703.9 114.7 L707.0 109.9 L710.1 105.3 L713.2 101.1 L716.4 97.1 L719.5 93.4 L722.6 90.1 L725.7 87.1 L728.9 84.3 L732.0 81.9 L735.2 79.8 L738.3 78.0 L741.4 76.5 L744.6 75.3 L747.7 74.4 L750.8 73.8 L754.0 73.6 L757.1 73.7 L760.2 74.0 L763.4 74.7 L766.5 75.7 L769.7 76.9 L772.8 78.5 L776.0 80.4 L779.2 82.5 L782.3 84.9 L785.5 87.6 L788.7 90.5 L791.8 93.8 L795.0 97.2 L798.2 101.0 L801.3 104.9 L804.5 109.1 L807.6 113.6 L810.8 118.3 L813.9 123.1 L817.1 128.2 L820.2 133.5 L823.3 139.0 L826.4 144.7 L829.5 150.5 L832.6 156.6 L835.7 162.8 L838.8 169.2 L841.9 175.7 L844.9 182.4 L848.0 189.3 L851.1 196.3 L854.2 203.4 L857.3 210.6 L860.3 218.0 L863.4 225.5 L866.5 233.0 L869.5 240.7 L872.6 248.5 L875.6 256.3 L878.7 264.2 L881.7 272.2 L884.7 280.3 L887.7 288.5 L890.7 296.7 L893.7 305.0 L896.7 313.4 L899.7 321.9 L902.7 330.4 L905.7 339.1 L908.7 347.8 L911.6 356.6 L914.6 365.4 L917.6 374.4 L920.6 383.4 L923.6 392.4 L926.6 401.6 L929.5 410.8 L932.5 420.1 L935.5 429.4 L938.5 438.8 L941.4 448.3 L944.4 457.8 L947.4 467.4 L950.4 477.0 L953.3 486.7 L956.3 496.5 L959.3 506.3 L962.2 516.2 L965.2 526.1 L968.2 536.1 L971.1 546.1 L974.1 556.2 L977.1 566.3 L980.0 576.5 L983.0 586.7 L986.0 597.0 L988.9 607.3 L991.9 617.7 L994.9 628.1 L997.8 638.6 L1000.8 649.1 L1003.8 659.6 L1006.7 670.2 L1009.7 680.8 L1012.7 691.5 L1015.6 702.2 L1018.6 712.9 L1021.6 723.7 L1024.5 734.6 L1027.5 745.4 L1030.5 756.3 L1033.4 767.3 L1036.4 778.3 L1039.4 789.3 L1042.3 800.3 L1045.3 811.4 L1048.3 822.6 L1051.2 833.7 L1054.2 844.9 L1057.2 856.2 L1060.2 867.5 L1063.1 878.8 L1066.1 890.1 L1069.1 901.5 L1072.1 913.0 L1075.0 924.4 L1078.0 935.9 L1081.0 947.4 L1083.9 959.0 L1086.9 970.6 L1089.9 982.2 L1092.8 993.9 L1095.8 1005.6 L1098.8 1017.3 L1101.8 1029.0 L1104.7 1040.8 L1107.7 1052.6 L1110.7 1064.4 L1113.7 1076.3 L1116.6 1088.1 L1119.6 1100.0 L1122.6 1111.9 L1125.6 1123.8 L1128.6 1135.8 L1131.6 1147.7 L1134.6 1159.7 L1137.6 1171.6 L1140.6 1183.6 L1143.6 1195.6 L1146.6 1207.5 L1149.6 1219.5 L1152.6 1231.4 L1155.6 1243.3 L1158.6 1255.2 L1161.6 1267.0 L1164.6 1278.7 L1167.6 1290.4 L1170.5 1302.0 L1173.5 1313.5 L1176.5 1324.8 L1179.5 1336.1 L1182.5 1347.2 L1185.5 1358.1 L1188.5 1368.9 L1191.5 1379.5 L1194.5 1390.0 L1197.5 1400.3 L1200.5 1410.4 L1203.4 1420.3 L1206.2 1430.0 L1209.0 1439.5 L1211.7 1448.8 L1214.4 1458.0 L1217.0 1466.9 L1219.6 1475.7 L1222.2 1484.3 L1224.8 1492.8 L1227.4 1501.0 L1230.0 1509.1 L1232.5 1517.0 L1235.2 1524.8 L1237.8 1532.4 L1240.4 1539.8 L1243.0 1547.1 L1245.6 1554.2 L1248.1 1561.2 L1250.7 1568.1 L1253.2 1574.8 L1255.8 1581.4 L1258.3 1587.8 L1260.9 1594.1 L1263.5 1600.4 L1266.0 1606.4 L1268.6 1612.4 L1271.2 1618.3 L1273.9 1624.1 L1276.5 1629.8 L1279.1 1635.4 L1281.6 1640.9 L1284.2 1646.3 L1286.8 1651.7 L1289.5 1657.0 L1292.3 1662.3 L1295.1 1667.5 L1298.0 1672.6 L1301.0 1677.7 L1304.0 1682.8 L1307.0 1687.8 L1310.0 1692.8 L1313.0 1697.8 L1316.0 1702.9 L1319.0 1707.9 L1322.0 1712.9 L1325.0 1717.9 L1328.0 1722.9 L1331.0 1728.0 L1334.0 1733.1 L1337.0 1738.3 L1340.0 1743.5 L1343.0 1748.8 L1346.0 1754.2 L1349.0 1759.6 L1352.0 1765.1 L1355.0 1770.7 L1358.0 1776.5 L1361.0 1782.3 L1362.4 1785.0"/>
<path stroke="#0000ff" stroke-dasharray="41 11.3 19.5 11.3" d="M310.5 1404.0 L314.0 1404.0 L317.1 1403.7 L320.1 1403.1 L323.1 1402.1 L326.2 1400.8 L329.2 1399.1 L332.2 1396.9 L335.3 1394.4 L338.3 1391.3 L341.4 1387.9 L344.4 1383.9 L347.4 1379.5 L350.5 1374.6 L353.5 1369.3 L356.5 1363.4 L359.6 1357.1 L362.6 1350.3 L365.6 1343.1 L368.7 1335.4 L371.7 1327.2 L374.7 1318.7 L377.8 1309.7 L380.8 1300.4 L383.8 1290.7 L386.9 1280.7 L389.9 1270.4 L392.9 1259.8 L396.0 1248.9 L399.0 1237.9 L402.0 1226.7 L405.1 1215.3 L408.1 1203.8 L411.1 1192.2 L414.1 1180.4 L417.2 1168.6 L420.2 1156.7 L423.2 1144.7 L426.2 1132.7 L429.3 1120.6 L432.3 1108.5 L435.3 1096.4 L438.3 1084.2 L441.4 1072.0 L444.4 1059.7 L447.4 1047.5 L450.4 1035.2 L453.4 1022.9 L456.5 1010.6 L459.5 998.2 L462.5 985.9 L465.5 973.5 L468.6 961.1 L471.6 948.7 L474.6 936.3 L477.7 924.0 L480.7 911.6 L483.7 899.2 L486.8 886.8 L489.8 874.4 L492.9 862.1 L495.9 849.7 L499.0 837.4 L502.0 825.1 L505.1 812.8 L508.1 800.6 L511.2 788.3 L514.3 776.1 L517.4 763.9 L520.5 751.8 L523.7 739.6 L526.8 727.6 L529.9 715.5 L533.1 703.5 L536.2 691.5 L539.4 679.6 L542.6 667.7 L545.7 655.9 L548.9 644.0 L552.1 632.3 L555.3 620.5 L558.5 608.8 L561.7 597.2 L564.9 585.5 L568.1 573.9 L571.3 562.3 L574.5 550.7 L577.7 539.2 L580.9 527.6 L584.1 516.1 L587.4 504.5 L590.7 492.9 L594.0 481.4 L597.4 469.8 L600.7 458.2 L604.1 446.6 L607.4 435.0 L610.8 423.5 L614.1 411.9 L617.3 400.4 L620.5 388.9 L623.6 377.4 L626.6 366.0 L629.6 354.8 L632.6 343.6 L635.6 332.6 L638.5 321.8 L641.5 311.1 L644.4 300.6 L647.4 290.4 L650.3 280.3 L653.3 270.4 L656.2 260.7 L659.1 251.3 L662.0 242.1 L664.9 233.2 L667.8 224.4 L670.7 216.0 L673.6 207.7 L676.5 199.8 L679.4 192.1 L682.3 184.6 L685.2 177.4 L688.1 170.5 L690.9 163.8 L693.8 157.4 L696.5 151.4 L699.3 145.7 L702.0 140.3 L704.6 135.3 L707.2 130.6 L709.8 126.1 L712.4 122.0 L714.9 118.2 L717.5 114.7 L720.0 111.5 L722.5 108.5 L725.0 105.9 L727.5 103.5 L730.0 101.4 L732.5 99.6 L735.0 98.0 L737.5 96.7 L740.1 95.6 L742.7 94.8 L745.3 94.2 L747.9 93.8 L750.6 93.6 L753.3 93.6 L756.0 93.9 L758.7 94.3 L761.4 95.0 L764.1 95.9 L766.8 97.1 L769.5 98.4 L772.2 100.0 L774.9 101.8 L777.6 103.8 L780.3 106.1 L783.0 108.6 L785.8 111.4 L788.5 114.4 L791.3 117.6 L794.1 121.1 L796.9 124.8 L799.7 128.8 L802.5 133.0 L805.4 137.4 L808.2 142.1 L811.1 147.0 L814.1 152.1 L817.0 157.5 L820.0 163.1 L822.9 168.9 L825.9 174.8 L828.8 180.8 L831.8 187.0 L834.8 193.4 L837.7 199.9 L840.7 206.5 L843.7 213.3 L846.6 220.2 L849.6 227.3 L852.6 234.5 L855.6 241.8 L858.5 249.2 L861.5 256.8 L864.5 264.5 L867.5 272.4 L870.5 280.4 L873.5 288.5 L876.5 296.7 L879.5 305.0 L882.5 313.4 L885.5 321.9 L888.5 330.4 L891.5 339.1 L894.6 347.8 L897.6 356.6 L900.6 365.4 L903.6 374.4 L906.6 383.4 L909.6 392.4 L912.7 401.6 L915.7 410.8 L918.7 420.1 L921.7 429.4 L924.8 438.8 L927.8 448.3 L930.8 457.8 L933.9 467.4 L936.9 477.0 L939.9 486.7 L943.0 496.5 L946.0 506.3 L949.0 516.2 L952.1 526.1 L955.1 536.1 L958.1 546.1 L961.2 556.2 L964.2 566.3 L967.3 576.5 L970.3 586.7 L973.3 597.0 L976.4 607.3 L979.4 617.7 L982.5 628.1 L985.5 638.6 L988.5 649.1 L991.6 659.6 L994.6 670.2 L997.7 680.8 L1000.7 691.5 L1003.7 702.2 L1006.8 712.9 L1009.8 723.7 L1012.8 734.6 L1015.9 745.4 L1018.9 756.3 L1022.0 767.3 L1025.0 778.3 L1028.0 789.3 L1031.1 800.3 L1034.1 811.4 L1037.1 822.6 L1040.1 833.7 L1043.2 844.9 L1046.2 856.2 L1049.2 867.5 L1052.3 878.8 L1055.3 890.1 L1058.3 901.5 L1061.3 913.0 L1064.4 924.4 L1067.4 935.9 L1070.4 947.4 L1073.4 959.0 L1076.5 970.6 L1079.5 982.2 L1082.5 993.9 L1085.5 1005.6 L1088.6 1017.3 L1091.6 1029.0 L1094.6 1040.8 L1097.6 1052.6 L1100.7 1064.4 L1103.7 1076.3 L1106.7 1088.1 L1109.7 1100.0 L1112.8 1111.9 L1115.8 1123.8 L1118.8 1135.8 L1121.8 1147.7 L1124.9 1159.7 L1127.9 1171.6 L1130.9 1183.6 L1133.9 1195.6 L1137.0 1207.5 L1140.0 1219.5 L1143.0 1231.4 L1146.0 1243.3 L1149.1 1255.2 L1152.1 1267.0 L1155.1 1278.7 L1158.1 1290.4 L1161.2 1302.0 L1164.2 1313.5 L1167.2 1324.8 L1170.3 1336.1 L1173.3 1347.2 L1176.4 1358.1 L1179.4 1368.9 L1182.5 1379.5 L1185.5 1390.0 L1188.6 1400.3 L1191.7 1410.4 L1194.8 1420.3 L1198.0 1430.0 L1201.3 1439.5 L1204.5 1448.8 L1207.9 1458.0 L1211.2 1466.9 L1214.6 1475.7 L1217.9 1484.3 L1221.3 1492.8 L1224.7 1501.0 L1228.1 1509.1 L1231.5 1517.0 L1234.9 1524.8 L1238.2 1532.4 L1241.6 1539.8 L1245.1 1547.1 L1248.6 1554.2 L1252.1 1561.2 L1255.5 1568.1 L1258.9 1574.8 L1262.2 1581.4 L1265.4 1587.8 L1268.5 1594.1 L1271.5 1600.4 L1274.5 1606.4 L1277.5 1612.4 L1280.5 1618.3 L1283.5 1624.1 L1286.5 1629.8 L1289.5 1635.4 L1292.5 1640.9 L1295.5 1646.3 L1298.5 1651.7 L1301.5 1657.0 L1304.5 1662.3 L1307.5 1667.5 L1310.5 1672.6 L1313.5 1677.7 L1316.5 1682.8 L1319.5 1687.8 L1322.5 1692.8 L1325.5 1697.8 L1328.5 1702.9 L1331.5 1707.9 L1334.5 1712.9 L1337.5 1717.9 L1340.5 1722.9 L1343.5 1728.0 L1346.5 1733.1 L1349.5 1738.3 L1352.5 1743.5 L1355.5 1748.8 L1358.5 1754.2 L1361.5 1759.6 L1364.5 1765.1 L1367.5 1770.7 L1370.5 1776.5 L1373.5 1782.3 L1374.9 1785.0"/>
<path stroke="#ff00ff" stroke-dasharray="41 11.3 19.5 11.3" d="M310.5 1404.0 L314.8 1404.0 L317.8 1403.7 L320.8 1403.1 L323.8 1402.1 L326.8 1400.8 L329.8 1399.1 L332.8 1396.9 L335.8 1394.4 L338.8 1391.3 L341.8 1387.9 L344.8 1383.9 L347.8 1379.5 L350.8 1374.6 L353.8 1369.3 L356.8 1363.4 L359.8 1357.1 L362.8 1350.3 L365.8 1343.1 L368.8 1335.4 L371.8 1327.2 L374.8 1318.7 L377.8 1309.7 L380.8 1300.4 L383.8 1290.7 L386.8 1280.7 L389.8 1270.4 L392.8 1259.8 L395.8 1248.9 L398.8 1237.9 L401.8 1226.7 L404.8 1215.3 L407.8 1203.8 L410.8 1192.2 L413.8 1180.4 L416.8 1168.6 L419.8 1156.7 L422.8 1144.7 L425.8 1132.7 L428.8 1120.6 L431.8 1108.5 L434.8 1096.4 L437.8 1084.2 L440.8 1072.0 L443.8 1059.7 L446.8 1047.5 L449.8 1035.2 L452.8 1022.9 L455.8 1010.6 L458.8 998.2 L461.8 985.9 L464.8 973.5 L467.8 961.1 L470.9 948.7 L473.9 936.3 L476.9 924.0 L479.9 911.6 L483.0 899.2 L486.0 886.8 L489.0 874.4 L492.1 862.1 L495.1 849.7 L498.2 837.4 L501.2 825.1 L504.3 812.8 L507.3 800.6 L510.4 788.3 L513.4 776.1 L516.5 763.9 L519.5 751.8 L522.6 739.6 L525.7 727.6 L528.7 715.5 L531.8 703.5 L534.9 691.5 L537.9 679.6 L541.0 667.7 L544.0 655.9 L547.1 644.0 L550.2 632.3 L553.2 620.5 L556.3 608.8 L559.4 597.2 L562.4 585.5 L565.5 573.9 L568.6 562.3 L571.6 550.7 L574.7 539.2 L577.8 527.6 L580.8 516.1 L583.9 504.5 L587.0 492.9 L590.1 481.4 L593.2 469.8 L596.3 458.2 L599.4 446.6 L602.5 435.0 L605.6 423.5 L608.7 411.9 L611.7 400.4 L614.8 388.9 L617.8 377.4 L620.8 366.0 L623.8 354.7 L626.8 343.5 L629.8 332.4 L632.8 321.5 L635.8 310.7 L638.8 300.0 L641.8 289.6 L644.8 279.3 L647.8 269.1 L650.8 259.2 L653.8 249.5 L656.8 240.1 L659.8 230.8 L662.8 221.8 L665.8 213.0 L668.8 204.5 L671.8 196.2 L674.8 188.2 L677.8 180.4 L680.8 172.9 L683.8 165.6 L686.8 158.6 L689.8 151.9 L692.8 145.5 L695.7 139.2 L698.7 133.3 L701.7 127.6 L704.6 122.2 L707.6 117.1 L710.5 112.3 L713.5 107.7 L716.4 103.5 L719.3 99.5 L722.3 95.9 L725.2 92.5 L728.1 89.5 L731.1 86.7 L734.0 84.3 L737.0 82.1 L739.9 80.3 L742.9 78.8 L745.9 77.6 L748.8 76.7 L751.8 76.2 L754.8 75.9 L757.8 76.0 L760.8 76.3 L763.9 77.0 L767.0 77.9 L770.1 79.1 L773.2 80.7 L776.3 82.5 L779.5 84.6 L782.6 86.9 L785.8 89.5 L788.9 92.4 L792.1 95.6 L795.3 99.0 L798.5 102.6 L801.6 106.5 L804.8 110.7 L808.0 115.0 L811.1 119.6 L814.3 124.4 L817.4 129.5 L820.5 134.7 L823.6 140.1 L826.7 145.7 L829.8 151.5 L832.9 157.5 L835.9 163.7 L839.0 170.0 L842.0 176.5 L845.1 183.1 L848.1 189.9 L851.2 196.8 L854.2 203.9 L857.3 211.0 L860.3 218.3 L863.3 225.7 L866.4 233.2 L869.4 240.9 L872.4 248.6 L875.5 256.4 L878.5 264.3 L881.5 272.3 L884.5 280.3 L887.5 288.5 L890.5 296.7 L893.5 305.0 L896.5 313.4 L899.5 321.9 L902.5 330.4 L905.5 339.1 L908.5 347.8 L911.5 356.6 L914.4 365.4 L917.4 374.4 L920.4 383.4 L923.4 392.4 L926.4 401.6 L929.4 410.8 L932.3 420.1 L935.3 429.4 L938.3 438.8 L941.3 448.3 L944.3 457.8 L947.2 467.4 L950.2 477.0 L953.2 486.7 L956.2 496.5 L959.1 506.3 L962.1 516.2 L965.1 526.1 L968.1 536.1 L971.0 546.1 L974.0 556.2 L977.0 566.3 L979.9 576.5 L982.9 586.7 L985.9 597.0 L988.9 607.3 L991.8 617.7 L994.8 628.1 L997.8 638.6 L1000.7 649.1 L1003.7 659.6 L1006.7 670.2 L1009.6 680.8 L1012.6 691.5 L1015.6 702.2 L1018.6 712.9 L1021.5 723.7 L1024.5 734.6 L1027.5 745.4 L1030.4 756.3 L1033.4 767.3 L1036.4 778.3 L1039.4 789.3 L1042.3 800.3 L1045.3 811.4 L1048.3 822.6 L1051.2 833.7 L1054.2 844.9 L1057.2 856.2 L1060.2 867.5 L1063.1 878.8 L1066.1 890.1 L1069.1 901.5 L1072.0 913.0 L1075.0 924.4 L1078.0 935.9 L1080.9 947.4 L1083.9 959.0 L1086.9 970.6 L1089.8 982.2 L1092.8 993.9 L1095.8 1005.6 L1098.8 1017.3 L1101.7 1029.0 L1104.7 1040.8 L1107.7 1052.6 L1110.7 1064.4 L1113.6 1076.3 L1116.6 1088.1 L1119.6 1100.0 L1122.6 1111.9 L1125.6 1123.8 L1128.6 1135.8 L1131.6 1147.7 L1134.6 1159.7 L1137.6 1171.6 L1140.6 1183.6 L1143.6 1195.6 L1146.6 1207.5 L1149.6 1219.5 L1152.6 1231.4 L1155.6 1243.3 L1158.6 1255.2 L1161.6 1267.0 L1164.6 1278.7 L1167.6 1290.4 L1170.6 1302.0 L1173.6 1313.5 L1176.6 1324.8 L1179.6 1336.1 L1182.6 1347.2 L1185.6 1358.1 L1188.6 1368.9 L1191.6 1379.5 L1194.6 1390.0 L1197.6 1400.3 L1200.6 1410.4 L1203.5 1420.3 L1206.4 1430.0 L1209.2 1439.5 L1211.9 1448.8 L1214.6 1458.0 L1217.3 1466.9 L1220.0 1475.7 L1222.7 1484.3 L1225.3 1492.8 L1228.0 1501.0 L1230.6 1509.1 L1233.3 1517.0 L1235.9 1524.8 L1238.6 1532.4 L1241.3 1539.8 L1244.0 1547.1 L1246.6 1554.2 L1249.3 1561.2 L1251.9 1568.1 L1254.6 1574.8 L1257.2 1581.4 L1259.8 1587.8 L1262.4 1594.1 L1265.1 1600.4 L1267.7 1606.4 L1270.4 1612.4 L1273.0 1618.3 L1275.7 1624.1 L1278.3 1629.8 L1280.9 1635.4 L1283.5 1640.9 L1286.1 1646.3 L1288.7 1651.7 L1291.3 1657.0 L1294.1 1662.3 L1296.9 1667.5 L1299.8 1672.6 L1302.8 1677.7 L1305.8 1682.8 L1308.8 1687.8 L1311.8 1692.8 L1314.8 1697.8 L1317.8 1702.9 L1320.8 1707.9 L1323.8 1712.9 L1326.8 1717.9 L1329.8 1722.9 L1332.8 1728.0 L1335.8 1733.1 L1338.8 1738.3 L1341.8 1743.5 L1344.8 1748.8 L1347.8 1754.2 L1350.8 1759.6 L1353.8 1765.1 L1356.8 1770.7 L1359.8 1776.5 L1362.8 1782.3 L1364.2 1785.0"/>
<path stroke="#ff0000" d="M310.5 1404.0 L314.0 1404.0 L317.0 1403.7 L320.0 1403.1 L323.0 1402.1 L326.0 1400.8 L329.0 1399.1 L332.0 1396.9 L335.0 1394.4 L338.0 1391.3 L341.0 1387.9 L344.0 1383.9 L347.0 1379.5 L350.0 1374.6 L353.0 1369.3 L356.0 1363.4 L359.0 1357.1 L362.0 1350.3 L365.0 1343.1 L368.0 1335.4 L371.0 1327.2 L374.0 1318.7 L377.0 1309.7 L380.0 1300.4 L383.0 1290.7 L386.0 1280.7 L389.0 1270.4 L392.0 1259.8 L395.0 1248.9 L398.0 1237.9 L401.0 1226.7 L404.0 1215.3 L407.0 1203.8 L410.0 1192.2 L413.0 1180.4 L416.0 1168.6 L419.0 1156.7 L422.0 1144.7 L425.0 1132.7 L428.0 1120.6 L431.0 1108.5 L434.0 1096.4 L437.0 1084.2 L440.0 1072.0 L443.0 1059.7 L446.0 1047.5 L449.0 1035.2 L452.0 1022.9 L455.0 1010.6 L458.0 998.2 L461.0 985.9 L464.0 973.5 L467.0 961.1 L470.0 948.7 L473.0 936.3 L476.0 924.0 L479.0 911.6 L482.0 899.2 L485.0 886.8 L488.0 874.4 L491.0 862.1 L494.0 849.7 L497.0 837.4 L500.0 825.1 L503.0 812.8 L506.0 800.6 L509.0 788.3 L512.0 776.1 L515.0 763.9 L518.0 751.8 L521.0 739.6 L524.0 727.6 L527.0 715.5 L530.0 703.5 L533.0 691.5 L536.0 679.6 L539.0 667.7 L542.0 655.9 L545.0 644.0 L548.0 632.3 L551.0 620.5 L554.0 608.8 L557.0 597.2 L560.0 585.5 L563.0 573.9 L566.0 562.3 L569.0 550.7 L572.0 539.2 L575.0 527.6 L578.0 516.1 L581.0 504.5 L584.0 492.9 L587.0 481.4 L590.0 469.8 L593.0 458.2 L596.0 446.6 L599.0 435.0 L602.0 423.5 L605.0 411.9 L608.0 400.4 L611.0 388.9 L614.0 377.4 L617.0 366.0 L620.0 354.7 L623.0 343.5 L626.0 332.4 L629.0 321.5 L632.0 310.7 L635.0 300.0 L638.0 289.6 L641.0 279.3 L644.0 269.1 L647.0 259.2 L650.0 249.5 L653.0 240.1 L656.0 230.8 L659.0 221.8 L662.0 213.0 L665.0 204.5 L668.0 196.2 L671.0 188.2 L674.0 180.4 L677.0 172.9 L680.0 165.6 L683.0 158.6 L686.0 151.9 L689.0 145.5 L692.0 139.4 L695.0 133.5 L698.0 127.9 L701.0 122.6 L704.0 117.6 L707.0 112.9 L710.0 108.5 L713.0 104.4 L716.0 100.6 L719.0 97.1 L722.0 93.8 L725.0 90.9 L728.0 88.3 L731.0 86.0 L734.0 84.0 L737.0 82.2 L740.0 80.8 L743.0 79.7 L746.0 78.9 L749.0 78.3 L752.0 78.1 L755.0 78.2 L758.0 78.5 L761.0 79.1 L764.0 80.1 L767.0 81.3 L770.0 82.7 L773.0 84.5 L776.0 86.5 L779.0 88.8 L782.0 91.4 L785.0 94.3 L788.0 97.3 L791.0 100.7 L794.0 104.3 L797.0 108.1 L800.0 112.2 L803.0 116.5 L806.0 121.0 L809.0 125.7 L812.0 130.7 L815.0 135.9 L818.0 141.2 L821.0 146.8 L824.0 152.5 L827.0 158.5 L830.0 164.6 L833.0 170.8 L836.0 177.2 L839.0 183.8 L842.0 190.5 L845.0 197.4 L848.0 204.3 L851.0 211.4 L854.0 218.7 L857.0 226.0 L860.0 233.5 L863.0 241.0 L866.0 248.7 L869.0 256.5 L872.0 264.3 L875.0 272.3 L878.0 280.3 L881.0 288.5 L884.0 296.7 L887.0 305.0 L890.0 313.4 L893.0 321.9 L896.0 330.4 L899.0 339.1 L902.0 347.8 L905.0 356.6 L908.0 365.4 L911.0 374.4 L914.0 383.4 L917.0 392.4 L920.0 401.6 L923.0 410.8 L926.0 420.1 L929.0 429.4 L932.0 438.8 L935.0 448.3 L938.0 457.8 L941.0 467.4 L944.0 477.0 L947.0 486.7 L950.0 496.5 L953.0 506.3 L956.0 516.2 L959.0 526.1 L962.0 536.1 L965.0 546.1 L968.0 556.2 L971.0 566.3 L974.0 576.5 L977.0 586.7 L980.0 597.0 L983.0 607.3 L986.0 617.7 L989.0 628.1 L992.0 638.6 L995.0 649.1 L998.0 659.6 L1001.0 670.2 L1004.0 680.8 L1007.0 691.5 L1010.0 702.2 L1013.0 712.9 L1016.0 723.7 L1019.0 734.6 L1022.0 745.4 L1025.0 756.3 L1028.0 767.3 L1031.0 778.3 L1034.0 789.3 L1037.0 800.3 L1040.0 811.4 L1043.0 822.6 L1046.0 833.7 L1049.0 844.9 L1052.0 856.2 L1055.0 867.5 L1058.0 878.8 L1061.0 890.1 L1064.0 901.5 L1067.0 913.0 L1070.0 924.4 L1073.0 935.9 L1076.0 947.4 L1079.0 959.0 L1082.0 970.6 L1085.0 982.2 L1088.0 993.9 L1091.0 1005.6 L1094.0 1017.3 L1097.0 1029.0 L1100.0 1040.8 L1103.0 1052.6 L1106.0 1064.4 L1109.0 1076.3 L1112.0 1088.1 L1115.0 1100.0 L1118.0 1111.9 L1121.0 1123.8 L1124.0 1135.8 L1127.0 1147.7 L1130.0 1159.7 L1133.0 1171.6 L1136.0 1183.6 L1139.0 1195.6 L1142.0 1207.5 L1145.0 1219.5 L1148.0 1231.4 L1151.0 1243.3 L1154.0 1255.2 L1157.0 1267.0 L1160.0 1278.7 L1163.0 1290.4 L1166.0 1302.0 L1169.0 1313.5 L1172.0 1324.8 L1175.0 1336.1 L1178.0 1347.2 L1181.0 1358.1 L1184.0 1368.9 L1187.0 1379.5 L1190.0 1390.0 L1193.0 1400.3 L1196.0 1410.4 L1199.0 1420.3 L1202.0 1430.0 L1205.0 1439.5 L1208.0 1448.8 L1211.0 1458.0 L1214.0 1466.9 L1217.0 1475.7 L1220.0 1484.3 L1223.0 1492.8 L1226.0 1501.0 L1229.0 1509.1 L1232.0 1517.0 L1235.0 1524.8 L1238.0 1532.4 L1241.0 1539.8 L1244.0 1547.1 L1247.0 1554.2 L1250.0 1561.2 L1253.0 1568.1 L1256.0 1574.8 L1259.0 1581.4 L1262.0 1587.8 L1265.0 1594.1 L1268.0 1600.4 L1271.0 1606.4 L1274.0 1612.4 L1277.0 1618.3 L1280.0 1624.1 L1283.0 1629.8 L1286.0 1635.4 L1289.0 1640.9 L1292.0 1646.3 L1295.0 1651.7 L1298.0 1657.0 L1301.0 1662.3 L1304.0 1667.5 L1307.0 1672.6 L1310.0 1677.7 L1313.0 1682.8 L1316.0 1687.8 L1319.0 1692.8 L1322.0 1697.8 L1325.0 1702.9 L1328.0 1707.9 L1331.0 1712.9 L1334.0 1717.9 L1337.0 1722.9 L1340.0 1728.0 L1343.0 1733.1 L1346.0 1738.3 L1349.0 1743.5 L1352.0 1748.8 L1355.0 1754.2 L1358.0 1759.6 L1361.0 1765.1 L1364.0 1770.7 L1367.0 1776.5 L1370.0 1782.3 L1371.4 1785.0"/>
<path stroke="#000000" stroke-dasharray="41 11.3 19.5 11.3" d="M310.5 1404.0 L314.0 1404.0 L317.0 1403.6 L320.0 1402.8 L323.0 1401.7 L326.0 1400.1 L329.0 1398.1 L332.0 1395.7 L335.0 1392.7 L338.0 1389.3 L341.0 1385.5 L344.0 1381.1 L347.0 1376.3 L350.0 1370.9 L353.0 1365.1 L356.0 1358.8 L359.0 1352.1 L362.0 1344.8 L365.0 1337.2 L368.0 1329.1 L371.0 1320.6 L374.0 1311.6 L377.0 1302.3 L380.0 1292.7 L383.0 1282.7 L386.0 1272.5 L389.0 1261.9 L392.0 1251.2 L395.0 1240.3 L398.0 1229.2 L401.0 1217.9 L404.0 1206.7 L407.0 1195.4 L410.0 1184.1 L413.0 1172.9 L416.0 1161.7 L419.0 1150.7 L422.0 1139.7 L425.0 1128.8 L428.0 1117.9 L431.0 1106.9 L434.0 1096.0 L437.0 1084.9 L440.0 1073.7 L443.0 1062.4 L446.0 1051.0 L449.0 1039.5 L452.0 1027.8 L455.0 1016.0 L458.0 1004.1 L461.0 992.1 L464.0 979.9 L467.0 967.8 L470.0 955.5 L473.0 943.3 L476.0 931.0 L479.0 918.8 L482.0 906.6 L485.0 894.5 L488.0 882.5 L491.0 870.7 L494.0 859.1 L497.0 847.7 L500.0 836.5 L503.0 825.5 L506.0 814.8 L509.0 804.3 L512.0 793.9 L515.0 783.7 L518.0 773.7 L521.0 763.8 L524.0 754.0 L527.0 744.4 L530.0 734.8 L533.0 725.2 L536.0 715.8 L539.0 706.4 L542.0 697.0 L545.0 687.7 L548.0 678.4 L551.0 669.2 L554.0 660.0 L557.0 650.9 L560.0 641.8 L563.0 632.8 L566.0 623.8 L569.0 614.9 L572.0 606.1 L575.0 597.4 L578.0 588.8 L581.0 580.4 L584.0 572.0 L587.0 563.8 L590.0 555.8 L593.0 547.9 L596.0 540.1 L599.0 532.5 L602.0 525.1 L605.0 517.7 L608.0 510.6 L611.0 503.6 L614.0 496.8 L617.0 490.1 L620.0 483.5 L623.0 477.1 L626.0 470.8 L629.0 464.6 L632.0 458.6 L635.0 452.7 L638.0 446.8 L641.0 441.1 L644.0 435.5 L647.0 429.9 L650.0 424.4 L653.0 419.1 L656.0 413.8 L659.0 408.6 L662.0 403.5 L665.0 398.4 L668.0 393.5 L671.0 388.7 L674.0 384.0 L677.0 379.4 L680.0 375.0 L683.0 370.6 L686.0 366.5 L689.0 362.4 L692.0 358.6 L695.0 354.9 L698.0 351.4 L701.0 348.2 L704.0 345.1 L707.0 342.3 L710.0 339.8 L713.0 337.6 L716.0 335.7 L719.0 334.1 L722.0 332.8 L725.0 331.9 L728.0 331.4 L731.0 331.3 L734.0 331.6 L737.0 332.4 L740.0 333.5 L743.0 335.1 L746.0 337.0 L749.0 339.4 L752.0 342.1 L755.0 345.3 L758.0 348.8 L761.0 352.6 L764.0 356.8 L767.0 361.2 L770.0 365.9 L773.0 370.9 L776.0 376.0 L779.0 381.3 L782.0 386.8 L785.0 392.4 L788.0 398.2 L791.0 404.1 L794.0 410.1 L797.0 416.2 L800.0 422.4 L803.0 428.8 L806.0 435.3 L809.0 441.9 L812.0 448.7 L815.0 455.7 L818.0 462.9 L821.0 470.2 L824.0 477.7 L827.0 485.5 L830.0 493.4 L833.0 501.4 L836.0 509.7 L839.0 518.1 L842.0 526.7 L845.0 535.5 L848.0 544.3 L851.0 553.3 L854.0 562.4 L857.0 571.5 L860.0 580.7 L863.0 589.9 L866.0 599.1 L869.0 608.4 L872.0 617.6 L875.0 626.8 L878.0 635.9 L881.0 645.0 L884.0 654.1 L887.0 663.0 L890.0 671.9 L893.0 680.6 L896.0 689.3 L899.0 697.8 L902.0 706.2 L905.0 714.4 L908.0 722.6 L911.0 730.5 L914.0 738.3 L917.0 746.0 L920.0 753.5 L923.0 760.8 L926.0 768.0 L929.0 775.0 L932.0 781.8 L935.0 788.5 L938.0 795.0 L941.0 801.3 L944.0 807.5 L947.0 813.6 L950.0 819.5 L953.0 825.2 L956.0 830.9 L959.0 836.4 L962.0 841.8 L965.0 847.1 L968.0 852.4 L971.0 857.5 L974.0 862.6 L977.0 867.7 L980.0 872.7 L983.0 877.7 L986.0 882.7 L989.0 887.7 L992.0 892.7 L995.0 897.7 L998.0 902.8 L1001.0 907.9 L1004.0 913.0 L1007.0 918.2 L1010.0 923.5 L1013.0 928.8 L1016.0 934.2 L1019.0 939.7 L1022.0 945.2 L1025.0 950.9 L1028.0 956.7 L1031.0 962.5 L1034.0 968.5 L1037.0 974.5 L1040.0 980.7 L1043.0 987.0 L1046.0 993.4 L1049.0 999.9 L1052.0 1006.5 L1055.0 1013.3 L1058.0 1020.1 L1061.0 1027.1 L1064.0 1034.2 L1067.0 1041.4 L1070.0 1048.7 L1073.0 1056.1 L1076.0 1063.6 L1079.0 1071.2 L1082.0 1078.9 L1085.0 1086.7 L1088.0 1094.6 L1091.0 1102.6 L1094.0 1110.6 L1097.0 1118.7 L1100.0 1126.9 L1103.0 1135.1 L1106.0 1143.3 L1109.0 1151.6 L1112.0 1160.0 L1115.0 1168.3 L1118.0 1176.6 L1121.0 1185.0 L1124.0 1193.4 L1127.0 1201.7 L1130.0 1210.0 L1133.0 1218.3 L1136.0 1226.6 L1139.0 1234.9 L1142.0 1243.1 L1145.0 1251.3 L1148.0 1259.5 L1151.0 1267.6 L1154.0 1275.6 L1157.0 1283.6 L1160.0 1291.6 L1163.0 1299.5 L1166.0 1307.4 L1169.0 1315.2 L1172.0 1322.9 L1175.0 1330.6 L1178.0 1338.3 L1181.0 1345.9 L1184.0 1353.4 L1187.0 1360.9 L1190.0 1368.4 L1193.0 1375.7 L1196.0 1383.1 L1199.0 1390.4 L1202.0 1397.6 L1205.0 1404.8 L1208.0 1412.0 L1211.0 1419.1 L1214.0 1426.2 L1217.0 1433.2 L1220.0 1440.3 L1223.0 1447.3 L1226.0 1454.2 L1229.0 1461.2 L1232.0 1468.1 L1235.0 1475.0 L1238.0 1481.9 L1241.0 1488.9 L1244.0 1495.8 L1247.0 1502.7 L1250.0 1509.6 L1253.0 1516.5 L1256.0 1523.5 L1259.0 1530.5 L1262.0 1537.4 L1265.0 1544.4 L1268.0 1551.5 L1271.0 1558.5 L1274.0 1565.6 L1277.0 1572.7 L1280.0 1579.8 L1283.0 1587.0 L1286.0 1594.2 L1289.0 1601.4 L1292.0 1608.6 L1295.0 1615.8 L1298.0 1623.1 L1301.0 1630.4 L1304.0 1637.7 L1307.0 1645.0 L1310.0 1652.3 L1313.0 1659.7 L1316.0 1667.0 L1319.0 1674.3 L1322.0 1681.7 L1325.0 1689.0 L1328.0 1696.3 L1331.0 1703.6 L1334.0 1710.9 L1337.0 1718.2 L1340.0 1725.4 L1343.0 1732.5 L1346.0 1739.7 L1349.0 1746.7 L1352.0 1753.7 L1355.0 1760.7 L1358.0 1767.5 L1361.0 1774.3 L1364.0 1781.0 L1365.8 1785.0"/>
</g>
<text transform="translate(131.42,1714.70) scale(0.9193,1.0000)" font-size="100" fill="#262626">-0.2</text>
<text transform="translate(229.19,1438.20) scale(0.9524,1.0000)" font-size="100" fill="#262626">0</text>
<text transform="translate(161.82,1161.70) scale(0.9188,1.0000)" font-size="100" fill="#262626">0.2</text>
<text transform="translate(161.06,885.20) scale(0.9101,1.0000)" font-size="100" fill="#262626">0.4</text>
<text transform="translate(161.03,608.70) scale(0.9178,1.0000)" font-size="100" fill="#262626">0.6</text>
<text transform="translate(161.03,332.20) scale(0.9178,1.0000)" font-size="100" fill="#262626">0.8</text>
<text transform="translate(285.49,1910.00) scale(0.9524,1.0000)" font-size="100" fill="#262626">0</text>
<text transform="translate(568.73,1910.00) scale(0.9216,1.0000)" font-size="100" fill="#262626">1</text>
<text transform="translate(854.07,1910.00) scale(0.9333,1.0000)" font-size="100" fill="#262626">2</text>
<text transform="translate(1136.99,1910.00) scale(0.9279,1.0000)" font-size="100" fill="#262626">3</text>
<text transform="translate(1425.56,1910.00) scale(0.8447,1.0000)" font-size="100" fill="#262626">4</text>
<text transform="translate(1707.51,1910.00) scale(0.9476,1.0000)" font-size="100" fill="#262626">5</text>
<text transform="translate(1992.62,1910.00) scale(0.9273,1.0000)" font-size="100" fill="#262626">6</text>
<text transform="translate(2275.16,1910.00) scale(0.9571,1.0000)" font-size="100" fill="#262626">7</text>
<text transform="translate(1153.59,2040.30) scale(1.0055,1.0400)" font-size="100" fill="#262626">Time (sec)</text>
<text transform="translate(86.8,1116.99) rotate(-90) scale(1.0785,1.026)" font-size="100" fill="#262626">Output, y</text>
<rect x="1604" y="84" width="784" height="885" fill="#fff"/>
<g stroke="#262626" fill="none"><line x1="1606.5" y1="84" x2="1606.5" y2="969" stroke-width="5"/><line x1="1604" y1="86.5" x2="2388" y2="86.5" stroke-width="5"/><line x1="2386" y1="84" x2="2386" y2="969" stroke-width="4"/><line x1="1604" y1="967" x2="2388" y2="967" stroke-width="4"/></g>
<line x1="1625.5" y1="138.4" x2="1823" y2="138.4" stroke="#00ff00" stroke-width="15"/>
<line x1="1625.5" y1="224.6" x2="1823" y2="224.6" stroke="#000" stroke-width="15"/>
<line x1="1625.5" y1="310.8" x2="1823" y2="310.8" stroke="#0000ff" stroke-width="15"/>
<line x1="1625.5" y1="397.0" x2="1823" y2="397.0" stroke="#ff00ff" stroke-width="15"/>
<line x1="1625.5" y1="483.2" x2="1823" y2="483.2" stroke="#ff0000" stroke-width="15" stroke-dasharray="40.5 9.5 19.5 9.5"/>
<line x1="1625.5" y1="569.4" x2="1823" y2="569.4" stroke="#00ffff" stroke-width="15" stroke-dasharray="40.5 9.5 19.5 9.5"/>
<line x1="1625.5" y1="655.6" x2="1823" y2="655.6" stroke="#0000ff" stroke-width="15" stroke-dasharray="40.5 9.5 19.5 9.5"/>
<line x1="1625.5" y1="741.8" x2="1823" y2="741.8" stroke="#ff00ff" stroke-width="15" stroke-dasharray="40.5 9.5 19.5 9.5"/>
<line x1="1625.5" y1="828.0" x2="1823" y2="828.0" stroke="#ff0000" stroke-width="15"/>
<line x1="1625.5" y1="914.2" x2="1823" y2="914.2" stroke="#000" stroke-width="15" stroke-dasharray="40.5 9.5 19.5 9.5"/>
<g filter="url(#bx)"><text transform="translate(1837.20,163.60) scale(0.6511,0.6880)" font-size="100" fill="#000">Reference</text>
<text transform="translate(1837.20,249.99) scale(0.6515,0.6880)" font-size="100" fill="#000">LESO</text>
<text transform="translate(1837.19,336.38) scale(0.6531,0.6880)" font-size="100" fill="#000">NLESO type I</text>
<text transform="translate(1837.20,422.77) scale(0.6524,0.6880)" font-size="100" fill="#000">NLESO type II</text>
<text transform="translate(1837.19,509.16) scale(0.6529,0.6880)" font-size="100" fill="#000">NLESO type III</text>
<text transform="translate(1837.19,595.55) scale(0.6534,0.6880)" font-size="100" fill="#000">NLESO type IV(a)</text>
<text transform="translate(1837.19,681.94) scale(0.6528,0.6880)" font-size="100" fill="#000">NLESO type IV(b)</text>
<text transform="translate(1837.20,768.33) scale(0.6502,0.6880)" font-size="100" fill="#000">NLESO type V</text>
<text transform="translate(1837.19,854.72) scale(0.6533,0.6880)" font-size="100" fill="#000">NLESO type VI</text>
<text transform="translate(1837.20,941.11) scale(0.6511,0.6880)" font-size="100" fill="#000">NHOESO</text></g>
</svg></body></html>
